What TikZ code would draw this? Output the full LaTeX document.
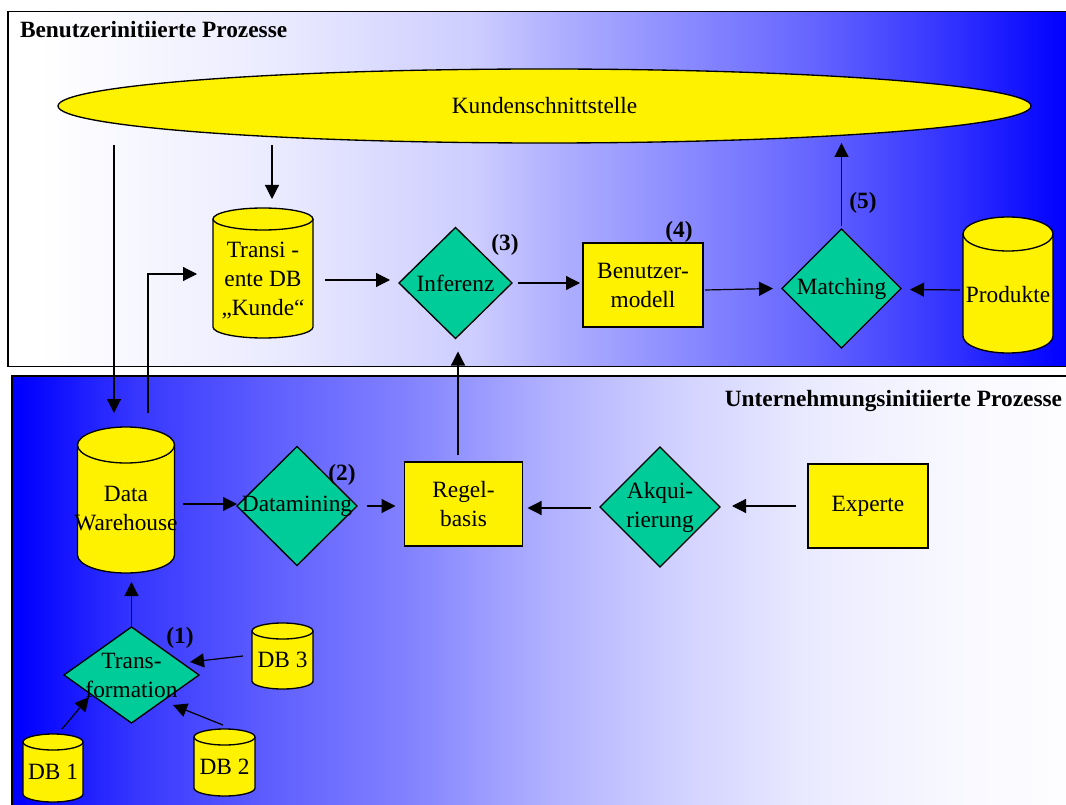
\documentclass[tikz,border=0pt]{standalone}
\usepackage{fontspec}
\setmainfont{Liberation Serif}
\usetikzlibrary{shapes.geometric,arrows.meta,calc,backgrounds}
\definecolor{dgreen}{RGB}{0,204,153}
\definecolor{ta}{RGB}{235,235,255}
\definecolor{tb}{RGB}{205,205,255}
\definecolor{tc}{RGB}{180,180,255}
\definecolor{td}{RGB}{140,140,255}
\definecolor{te}{RGB}{100,100,255}
\definecolor{tf}{RGB}{75,75,255}
\definecolor{tg}{RGB}{50,50,255}
\definecolor{th}{RGB}{20,20,255}
\definecolor{ba}{RGB}{55,55,255}
\definecolor{bb}{RGB}{95,95,255}
\definecolor{bc}{RGB}{130,130,255}
\definecolor{bd}{RGB}{175,175,255}
\definecolor{be}{RGB}{210,210,255}
\definecolor{bf}{RGB}{235,235,255}
\definecolor{bg}{RGB}{248,248,255}
\definecolor{bh}{RGB}{253,253,255}
\pgfdeclarehorizontalshading{topgrad}{100bp}{color(0bp)=(white); color(26.5bp)=(white); color(37.4bp)=(ta); color(47bp)=(tb); color(50.2bp)=(tc); color(56.6bp)=(td); color(63bp)=(te); color(66.2bp)=(tf); color(69.4bp)=(tg); color(72.6bp)=(th); color(74.8bp)=(blue); color(100bp)=(blue)}
\pgfdeclarehorizontalshading{botgrad}{100bp}{color(0bp)=(blue); color(25.4bp)=(blue); color(30.9bp)=(ba); color(37.3bp)=(bb); color(43.7bp)=(bc); color(50.1bp)=(bd); color(56.6bp)=(be); color(63bp)=(bf); color(69.4bp)=(bg); color(74.8bp)=(bh); color(100bp)=(bh)}
\newcommand\drawcyl[3]{%
  \draw[cylline] ($(#1.north west)+(0,#2)$) -- ($(#1.south west)+(0,-#2)$)
     arc[start angle=180,end angle=0,x radius=#3,y radius=#2]
     -- ($(#1.north east)+(0,#2)$)
     arc[start angle=0,end angle=-180,x radius=#3,y radius=#2] -- cycle;
  \draw[cylline,fill=none] ($(#1.north west)+(0,#2)$) arc[start angle=180,end angle=0,x radius=#3,y radius=#2];
}
\begin{document}
\begin{tikzpicture}[x=0.75pt,y=-0.75pt,
  every node/.style={font=\fontsize{17.5}{21.75}\selectfont, inner sep=0pt, outer sep=0pt},
  ybox/.style={draw=black, line width=1pt, fill=yellow, minimum width=90pt, minimum height=63pt, align=center},
  diam/.style={diamond, draw=black, line width=1pt, fill=dgreen},
  cyl/.style={rectangle, align=center},
  cylline/.style={draw=black, line width=1pt, fill=yellow},
  num/.style={font=\fontsize{17.5}{21.75}\selectfont\bfseries},
  ttl/.style={font=\fontsize{17.5}{21.75}\selectfont\bfseries},
  arr/.style={line width=0.9pt, -{Triangle[length=10.5pt,width=10.5pt]}}]
\useasboundingbox (0,0) rectangle (1066,805);
\begin{scope}[on background layer]
  \clip (0,0) rectangle (1066,805);
  \fill[white] (0,0) rectangle (1066,805);
  \shade[shading=topgrad] (8,11.5) rectangle (1070,366.5);
  \draw[line width=0.9pt] (8,11.5) rectangle (1070,366.5);
  \shade[shading=botgrad] (12,376) rectangle (1070,810);
  \draw[line width=0.9pt] (12,376) rectangle (1070,810);
\end{scope}

% titles
\node[ttl, anchor=base west] (t1) at (20,37.5) {Benutzerinitiierte Prozesse};
\node[ttl, anchor=base east] (t2) at (1062,406.5) {Unternehmungsinitiierte Prozesse};

% customer interface
\node[ellipse, draw=black, line width=1pt, fill=yellow, minimum width=729.75pt, minimum height=55.5pt] (kunde) at (544.5,106) {Kundenschnittstelle};

% cylinders (placeholders + labels)
\node[cyl, minimum width=75pt, minimum height=97.5pt, label={[align=center,yshift=-6pt]center:Transi -\\ente DB\\„Kunde“}] (tdb) at (263,273) {};
\node[cyl, minimum width=72.75pt, minimum height=109.5pt, label={[align=center,yshift=-6.4pt]center:Data\\Warehouse}] (dw) at (126,500) {};
\node[cyl, minimum width=67.5pt, minimum height=102pt, label={[yshift=-7.5pt]center:Produkte}] (prod) at (1008,285) {};
\node[cyl, minimum width=45pt, minimum height=51pt, label={[yshift=-3pt]center:DB 1}] (db1) at (53,768) {};
\node[cyl, minimum width=45.75pt, minimum height=50.25pt, label={[yshift=-3.4pt]center:DB 2}] (db2) at (224.5,762.5) {};
\node[cyl, minimum width=45.75pt, minimum height=49.5pt, label={[yshift=-3pt]center:DB 3}] (db3) at (282.5,656) {};

\begin{scope}[on background layer]
  \drawcyl{tdb}{11}{50}
  \drawcyl{dw}{18}{48.5}
  \drawcyl{prod}{17}{45}
  \drawcyl{db1}{8}{30}
  \drawcyl{db2}{8}{30.5}
  \drawcyl{db3}{8}{30.5}
\end{scope}

% diamonds
\node[diam, minimum width=84.75pt, minimum height=83.25pt, label=center:Inferenz] (inf) at (455.5,283) {};
\node[diam, minimum width=89.25pt, minimum height=89.25pt, label=center:Matching] (match) at (841.5,288.5) {};
\node[diam, minimum width=90pt, minimum height=89.25pt, label=center:Datamining] (dm) at (297,506) {};
\node[diam, minimum width=90pt, minimum height=90pt, label={[align=center]center:Akqui-\\rierung}] (ak) at (660,507) {};
\node[diam, minimum width=101.25pt, minimum height=72pt, label={[align=center]center:Trans-\\formation}] (tr) at (131.5,675) {};

% boxes
\node[ybox] (bm) at (643,285) {Benutzer-\\modell};
\node[ybox, minimum width=88.5pt] (rb) at (463.5,504) {Regel-\\basis};
\node[ybox] (ex) at (868,506) {Experte};

% step numbers
\node[num] (n1) at (180,638) {(1)};
\node[num] (n2) at (342,475) {(2)};
\node[num] (n3) at (505,245) {(3)};
\node[num] (n4) at (679,232) {(4)};
\node[num] (n5) at (863,203) {(5)};

% connectors
\draw[arr] ($(kunde.south -| tdb.north)+(9,2)$) -- ($(tdb.north)+(9,-9)$);
\draw[arr] ($(kunde.south -| dw.north)+(-12,2)$) -- ($(dw.north)+(-12,-14)$);
\draw[arr] ($(dw.north)+(22,-14)$) |- ($(tdb.west)+(-16,1)$);
\draw[arr] ($(tdb.east)+(12,7)$) -- ($(inf.west)+(-9,-3)$);
\draw[arr] ($(inf.east)+(6,0)$) -- ($(bm.west)+(-3,-2)$);
\draw[arr] ($(bm.east)+(2,5)$) -- ($(match.west)+(-9,0)$);
\draw[arr] ($(prod.west)+(-3,5)$) -- ($(match.east)+(9,1)$);
\draw[arr] ($(match.north)+(0,-3)$) -- (kunde.south -| match.north);
\draw[arr] ($(dw.east)+(8,4)$) -- ($(dm.west)+(0,-2)$);
\draw[arr] ($(dm.east)+(10,0)$) -- ($(rb.west)+(-9,2)$);
\draw[arr] ($(rb.north)+(-5.5,-7)$) -- ($(inf.south)+(2.5,13)$);
\draw[arr] ($(ak.west)+(-9,1)$) -- ($(rb.east)+(5,4)$);
\draw[arr] ($(ex.west)+(-12,0)$) -- ($(ak.east)+(12,-1)$);
\draw[arr] (tr.north) -- ($(dw.south)+(5.5,9)$);
\draw[arr] ($(db3.west)+(-9,0)$) -- ($(tr.east)+(-9,-13)$);
\draw[arr] ($(db1.north)+(9,-5)$) -- ($(tr.west)+(25,22)$);
\draw[arr] ($(db2.north)+(-1.5,-4)$) -- ($(tr.south)+(41.5,-18)$);
\end{tikzpicture}
\end{document}
